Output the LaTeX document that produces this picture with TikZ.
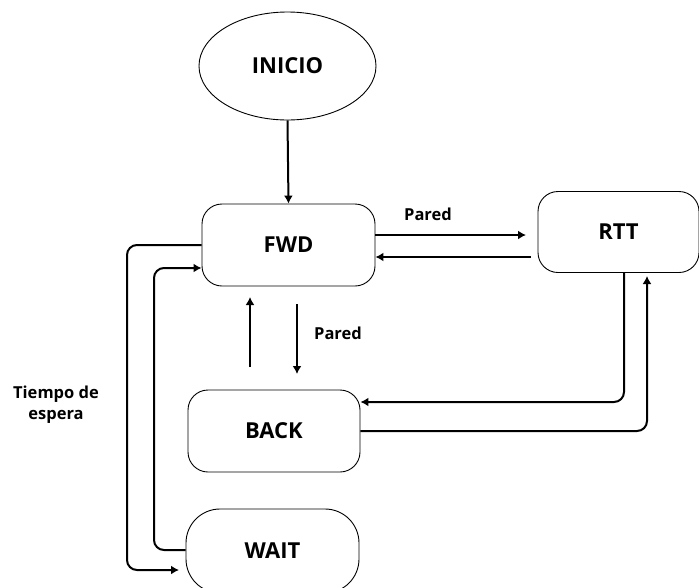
\documentclass[tikz,border=0pt]{standalone}
\usepackage{fontspec}
\setmainfont{Open Sans}
\usetikzlibrary{arrows.meta,shapes.geometric}
\begin{document}
\begin{tikzpicture}[x=1pt,y=-1pt,
  box/.style={draw,line width=0.9pt,rounded corners=20pt,inner sep=0pt,font=\fontsize{22}{26}\selectfont\bfseries},
  conn/.style={line width=2pt,-{Latex[length=8pt,width=9pt]},rounded corners=10pt},
  lbl/.style={font=\fontsize{16.5}{21}\selectfont\bfseries,align=center}]
\useasboundingbox (0,0) rectangle (699,587);
\node[ellipse,draw,line width=0.9pt,minimum width=177pt,minimum height=108pt,inner sep=0pt,font=\fontsize{22}{26}\selectfont\bfseries] (ini) at (287.5,66) {INICIO};
\node[box,minimum width=173pt,minimum height=82pt] (fwd) at (288.5,245) {FWD};
\node[box,minimum width=161pt,minimum height=81pt] (rtt) at (618.5,232) {RTT};
\node[box,minimum width=172pt,minimum height=82pt] (back) at (274,431) {BACK};
\node[box,rounded corners=34pt,minimum width=173pt,minimum height=84pt] (wait) at (272.5,551) {WAIT};
% INICIO -> FWD
\draw[conn] (ini.south) -- (fwd.north);
% FWD <-> RTT
\draw[conn] (fwd.east |- 0,235) -- (526,235);
\node[lbl] (p1) at (428,214) {Pared};
\draw[conn] (531,257) -- (fwd.east |- 0,257);
% FWD <-> BACK
\draw[conn] (250,367) -- (250,297);
\draw[conn] (297,304) -- (297,374);
\node[lbl] (p2) at (338,333) {Pared};
% RTT -> BACK
\draw[conn] (624,273) -- (624,402) -- (back.east |- 0,402);
% BACK -> RTT
\draw[conn] (back.east |- 0,431) -- (647,431) -- (647,276);
% FWD -> WAIT (outer)
\draw[conn] (fwd.west |- 0,245) -- (127,245) -- (127,570) -- (179,570);
% WAIT -> FWD (inner)
\draw[conn] (wait.west |- 0,550) -- (154,550) -- (154,268) -- (fwd.west |- 0,268);
\node[lbl] (te) at (56,405) {Tiempo de\\espera};
\end{tikzpicture}
\end{document}
